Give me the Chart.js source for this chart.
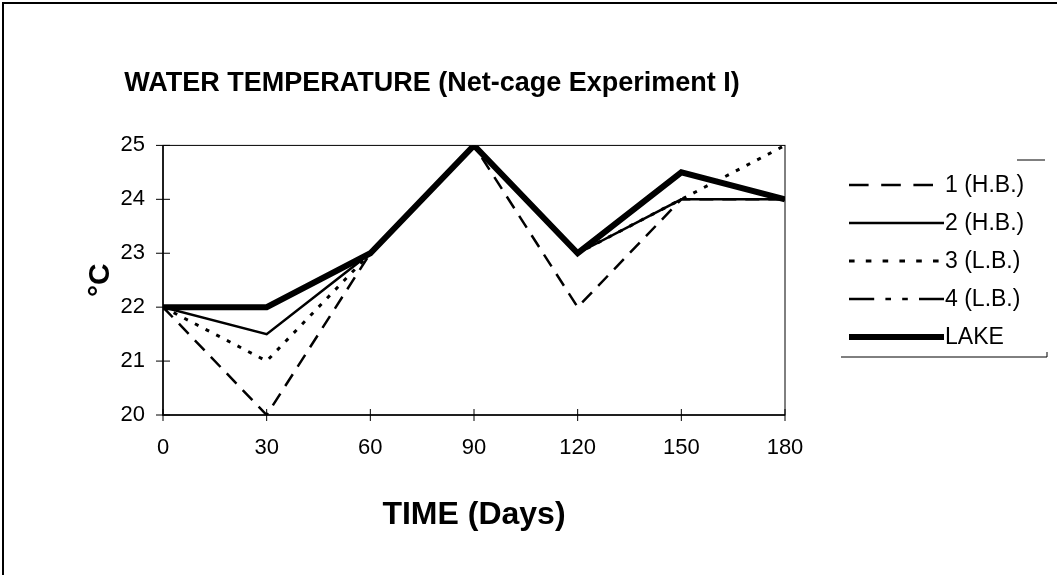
<!DOCTYPE html>
<html>
<head>
<meta charset="utf-8">
<script src="https://cdn.jsdelivr.net/npm/chart.js@4.4.1/dist/chart.umd.min.js"></script>
<style>
    body { margin: 0; background: #fff; }
    #chart { display: block; }
</style>
</head>
<body>
<canvas id="chart" width="1057" height="575"></canvas>
<script>
// Days of sampling
var days = [0, 30, 60, 90, 120, 150, 180];

// Water temperature (°C) per cage / lake
var cage1HB = [22, 20, 23, 25, 22, 24, 24];
var cage2HB = [22, 21.5, 23, 25, 23, 24, 24];
var cage3LB = [22, 21, 23, 25, 23, 24, 25];
var cage4LB = [22, 22, 23, 25, 23, 24.5, 24];
var lake = [22, 22, 23, 25, 23, 24.5, 24];

var seriesLabels = ['1 (H.B.)', '2 (H.B.)', '3 (L.B.)', '4 (L.B.)', 'LAKE'];
var yTicks = [20, 21, 22, 23, 24, 25];
var xTicks = [0, 30, 60, 90, 120, 150, 180];

function toPoints(values) {
    return values.map(function (v, i) { return { x: days[i], y: v }; });
}

var fontFamily = '"Liberation Sans", Arial, sans-serif';

// White page with the scanned frame (left and top edge)
var pagePlugin = {
    id: 'page',
    beforeDraw: function (chart) {
        var ctx = chart.ctx;
        ctx.save();
        ctx.fillStyle = '#fff';
        ctx.fillRect(0, 0, chart.width, chart.height);
        ctx.strokeStyle = '#000';
        ctx.lineWidth = 2;
        ctx.beginPath();
        ctx.moveTo(3, chart.height);
        ctx.lineTo(3, 3);
        ctx.lineTo(chart.width, 3);
        ctx.stroke();
        ctx.restore();
    }
};

// Plot frame and tick marks that cross the axes
var axesPlugin = {
    id: 'axesFrame',
    beforeDatasetsDraw: function (chart) {
        var ctx = chart.ctx;
        var area = chart.chartArea;
        var xs = chart.scales.x;
        var ys = chart.scales.y;
        ctx.save();
        ctx.strokeStyle = '#000';
        ctx.lineWidth = 1;
        ctx.strokeRect(area.left, area.top, area.right - area.left, area.bottom - area.top);
        ctx.lineWidth = 1.5;
        ctx.beginPath();
        ctx.moveTo(area.left, area.top);
        ctx.lineTo(area.left, area.bottom);
        ctx.lineTo(area.right, area.bottom);
        ctx.stroke();
        ctx.lineWidth = 1;
        ctx.beginPath();
        xTicks.forEach(function (t) {
            var px = xs.getPixelForValue(t);
            ctx.moveTo(px, area.bottom - 6);
            ctx.lineTo(px, area.bottom + 6);
        });
        yTicks.forEach(function (t) {
            var py = ys.getPixelForValue(t);
            ctx.moveTo(area.left - 7, py);
            ctx.lineTo(area.left + 7, py);
        });
        ctx.stroke();
        ctx.restore();
    }
};

// Legend on the right, drawn from the dataset styles
var legendPlugin = {
    id: 'sideLegend',
    afterDraw: function (chart) {
        var ctx = chart.ctx;
        var rowTop = 185;
        var rowGap = 38;
        ctx.save();
        ctx.font = '23px ' + fontFamily;
        ctx.textBaseline = 'middle';
        ctx.fillStyle = '#000';
        chart.data.datasets.forEach(function (ds, i) {
            var y = rowTop + i * rowGap;
            ctx.strokeStyle = '#000';
            ctx.lineWidth = ds.borderWidth;
            // the legend samples use a longer dash than the plot
            ctx.setLineDash((ds.borderDash || []).map(function (d) { return d * 1.4; }));
            ctx.beginPath();
            ctx.moveTo(849, y);
            ctx.lineTo(944, y);
            ctx.stroke();
            ctx.setLineDash([]);
            ctx.fillText(ds.label, 945, y + 1);
        });
        // remains of the legend box
        ctx.lineWidth = 1;
        ctx.beginPath();
        ctx.moveTo(1017, 160);
        ctx.lineTo(1045, 160);
        ctx.moveTo(841, 357);
        ctx.lineTo(1047, 357);
        ctx.lineTo(1047, 352);
        ctx.stroke();
        ctx.restore();
    }
};

var styles = [
    { borderWidth: 2.5, borderDash: [14, 9] },
    { borderWidth: 2.5, borderDash: [] },
    { borderWidth: 3, borderDash: [4, 8] },
    { borderWidth: 2.5, borderDash: [18, 8, 4, 8, 4, 8] },
    { borderWidth: 6, borderDash: [] }
];
var seriesValues = [cage1HB, cage2HB, cage3LB, cage4LB, lake];

var datasets = seriesValues.map(function (vals, i) {
    return {
        label: seriesLabels[i],
        data: toPoints(vals),
        borderColor: '#000',
        backgroundColor: '#000',
        borderWidth: styles[i].borderWidth,
        borderDash: styles[i].borderDash,
        pointRadius: 0,
        tension: 0,
        fill: false,
        order: i === 4 ? 0 : 1
    };
});

var chart = new Chart(document.getElementById('chart'), {
    type: 'line',
    data: { datasets: datasets },
    options: {
        responsive: false,
        animation: false,
        layout: { padding: { left: 0, right: 193, top: 0, bottom: 0 } },
        plugins: {
            legend: { display: false },
            tooltip: { enabled: false },
            title: {
                display: true,
                text: 'WATER TEMPERATURE (Net-cage Experiment I)',
                color: '#000',
                font: { family: fontFamily, size: 27, weight: 'bold' },
                padding: { top: 67, bottom: 46 }
            }
        },
        scales: {
            x: {
                type: 'linear',
                min: 0,
                max: 180,
                afterBuildTicks: function (scale) {
                    scale.ticks = xTicks.map(function (v) { return { value: v }; });
                },
                afterFit: function (scale) { scale.height = 160; },
                grid: { display: false, drawTicks: false },
                border: { display: false },
                ticks: {
                    color: '#000',
                    padding: 20,
                    maxRotation: 0,
                    font: { family: fontFamily, size: 22 }
                },
                title: {
                    display: true,
                    text: 'TIME (Days)',
                    color: '#000',
                    font: { family: fontFamily, size: 32, weight: 'bold' },
                    padding: { top: 0, bottom: 41 }
                }
            },
            y: {
                min: 20,
                max: 25,
                afterBuildTicks: function (scale) {
                    scale.ticks = yTicks.map(function (v) { return { value: v }; });
                },
                afterFit: function (scale) { scale.width = 163; },
                grid: { display: false, drawTicks: false },
                border: { display: false },
                ticks: {
                    color: '#000',
                    padding: 18,
                    font: { family: fontFamily, size: 22 }
                },
                title: {
                    display: true,
                    text: '°C',
                    color: '#000',
                    font: { family: fontFamily, size: 30, weight: 'bold' },
                    padding: { top: 83, bottom: 0 }
                }
            },
            // spacer so the plot ends where the legend area starts
            yRight: {
                position: 'right',
                display: true,
                afterFit: function (scale) { scale.width = 79; },
                grid: { display: false, drawTicks: false },
                border: { display: false },
                ticks: { display: false }
            }
        }
    },
    plugins: [pagePlugin, axesPlugin, legendPlugin]
});
</script>
</body>
</html>
